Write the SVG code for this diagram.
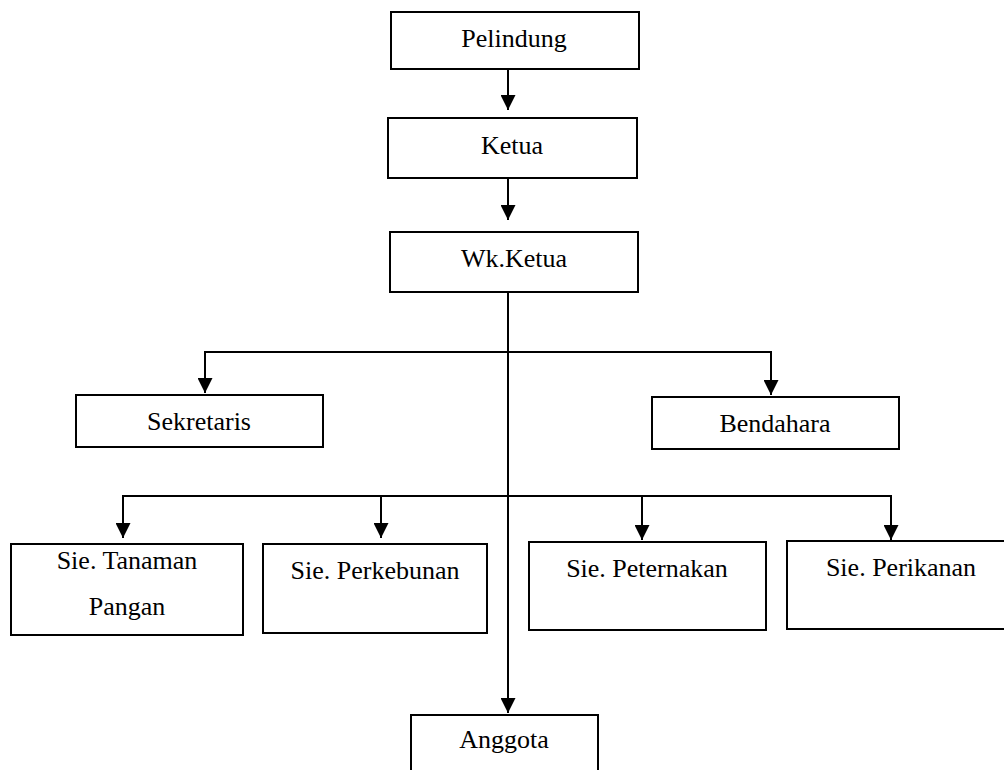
<svg xmlns="http://www.w3.org/2000/svg" width="1004" height="770" viewBox="0 0 1004 770">
<style>
.box{fill:#fff;stroke:#000;stroke-width:2}
.lbl{font-family:"Liberation Serif","Times New Roman",serif;font-size:26px;fill:#000;text-anchor:middle}
.ln{fill:none;stroke:#000;stroke-width:2}
</style>
<defs>
<marker id="ah" viewBox="0 0 15 15" markerWidth="15" markerHeight="15" refX="15" refY="7.5" orient="auto" markerUnits="userSpaceOnUse">
<path d="M0,0 L15,7.5 L0,15 z" fill="#000"/>
</marker>
</defs>
<rect width="1004" height="770" fill="#fff"/>
<g id="connectors">
<line class="ln" x1="508" y1="69" x2="508" y2="110" marker-end="url(#ah)"/>
<line class="ln" x1="508" y1="178" x2="508" y2="220" marker-end="url(#ah)"/>
<line class="ln" x1="508" y1="292" x2="508" y2="713" marker-end="url(#ah)"/>
<line class="ln" x1="204" y1="352" x2="772" y2="352"/>
<line class="ln" x1="205" y1="352" x2="205" y2="393" marker-end="url(#ah)"/>
<line class="ln" x1="771" y1="352" x2="771" y2="395" marker-end="url(#ah)"/>
<line class="ln" x1="122" y1="496" x2="892" y2="496"/>
<line class="ln" x1="123" y1="496" x2="123" y2="538" marker-end="url(#ah)"/>
<line class="ln" x1="381" y1="496" x2="381" y2="538" marker-end="url(#ah)"/>
<line class="ln" x1="642" y1="496" x2="642" y2="540" marker-end="url(#ah)"/>
<line class="ln" x1="891" y1="496" x2="891" y2="540" marker-end="url(#ah)"/>
</g>
<g id="pelindung"><rect class="box" x="391" y="12" width="248" height="57"/><text class="lbl" x="514" y="47">Pelindung</text></g>
<g id="ketua"><rect class="box" x="388" y="118" width="249" height="60"/><text class="lbl" x="512" y="154">Ketua</text></g>
<g id="wkketua"><rect class="box" x="390" y="232" width="248" height="60"/><text class="lbl" x="514" y="267">Wk.Ketua</text></g>
<g id="sekretaris"><rect class="box" x="76" y="395" width="247" height="52"/><text class="lbl" x="199" y="430">Sekretaris</text></g>
<g id="bendahara"><rect class="box" x="652" y="397" width="247" height="52"/><text class="lbl" x="775" y="432">Bendahara</text></g>
<g id="tanaman"><rect class="box" x="11" y="544" width="232" height="91"/><text class="lbl" x="127" y="569">Sie. Tanaman</text><text class="lbl" x="127" y="615">Pangan</text></g>
<g id="perkebunan"><rect class="box" x="263" y="544" width="224" height="89"/><text class="lbl" x="375" y="579">Sie. Perkebunan</text></g>
<g id="peternakan"><rect class="box" x="529" y="542" width="237" height="88"/><text class="lbl" x="647" y="577">Sie. Peternakan</text></g>
<g id="perikanan"><rect class="box" x="787" y="541" width="230" height="88"/><text class="lbl" x="901" y="576">Sie. Perikanan</text></g>
<g id="anggota"><rect class="box" x="411" y="715" width="187" height="70"/><text class="lbl" x="504" y="748">Anggota</text></g>
</svg>
